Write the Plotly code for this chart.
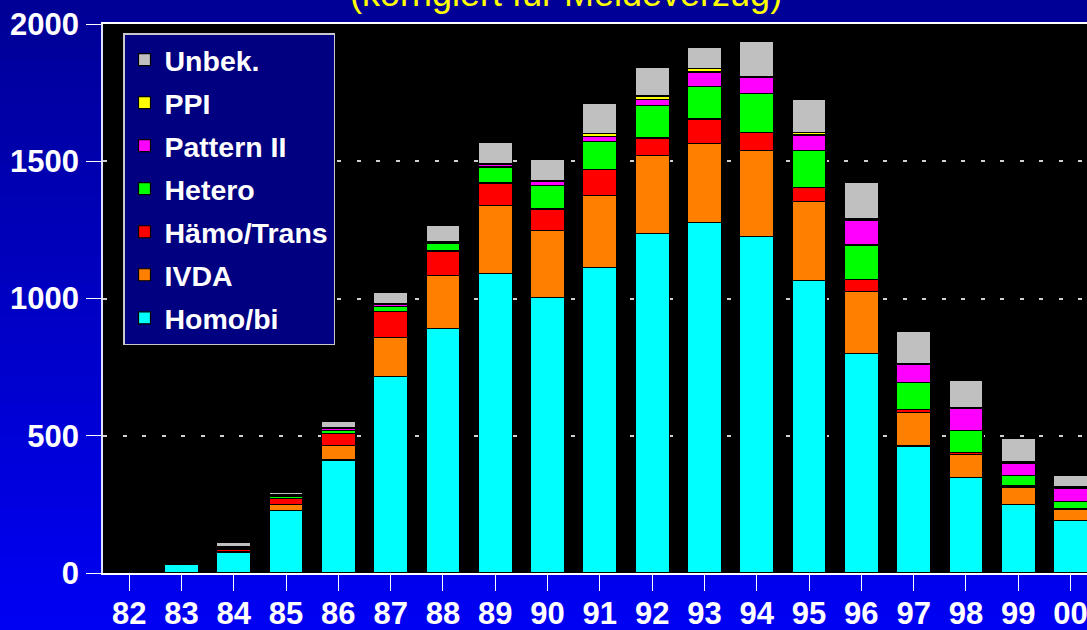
import plotly.graph_objects as go

years = ["82", "83", "84", "85", "86", "87", "88", "89", "90", "91",
         "92", "93", "94", "95", "96", "97", "98", "99", "00"]

homo_bi = [0, 31, 75, 228, 412, 716, 892, 1091, 1005, 1114, 1238, 1277, 1226, 1065, 801, 463, 347, 251, 191]
ivda = [0, 0, 3, 22, 52, 142, 192, 248, 243, 260, 283, 288, 314, 287, 224, 123, 86, 62, 40]
haemo_trans = [0, 0, 8, 22, 45, 95, 89, 82, 78, 97, 64, 89, 65, 52, 45, 11, 6, 5, 4]
hetero = [0, 0, 5, 6, 10, 19, 26, 58, 86, 100, 118, 119, 143, 136, 125, 98, 79, 38, 25]
pattern_ii = [0, 0, 4, 4, 6, 5, 4, 8, 14, 20, 22, 52, 56, 56, 90, 64, 80, 45, 50]
ppi = [0, 0, 3, 2, 4, 3, 3, 6, 2, 10, 13, 12, 3, 10, 5, 4, 4, 4, 4]
unbek = [0, 0, 12, 10, 22, 42, 61, 75, 77, 110, 103, 78, 130, 118, 132, 117, 99, 86, 42]

series = [
    ("Homo/bi", homo_bi, "#00FFFF"),
    ("IVDA", ivda, "#FF8000"),
    ("Hämo/Trans", haemo_trans, "#FF0000"),
    ("Hetero", hetero, "#00FF00"),
    ("Pattern II", pattern_ii, "#FF00FF"),
    ("PPI", ppi, "#FFFF00"),
    ("Unbek.", unbek, "#C0C0C0"),
]

W, H = 1087, 630
ML, MR, MT, MB = 103, 0, 24, 57
PW = W - ML - MR
PH = H - MT - MB

fig = go.Figure()
n = len(series)
for i, (name, vals, col) in enumerate(series):
    fig.add_trace(go.Bar(
        x=years, y=vals, name=name, legendgroup=name, legendrank=n - i,
        marker=dict(color=col, line=dict(color="#000000", width=1.2)),
    ))

# gradient background (navy at top -> bright blue at bottom)
shapes = []
nb = 42
for i in range(nb):
    py0 = H * i / nb
    py1 = H * (i + 1) / nb + 0.6
    t = (i + 0.5) / nb
    b = int(150 + (245 - 150) * t)
    shapes.append(dict(
        type="rect", xref="paper", yref="paper", layer="below",
        x0=-ML / PW - 0.01, x1=1 + 0.01,
        y0=1 - (py1 - MT) / PH, y1=1 - (py0 - MT) / PH,
        fillcolor=f"rgb(0,0,{b})", line=dict(width=0),
    ))
# black plot area
shapes.append(dict(type="rect", xref="paper", yref="paper", layer="below",
                   x0=0, x1=1, y0=0, y1=1, fillcolor="#000000",
                   line=dict(width=0)))

font_bold = dict(family="Liberation Sans, Arial, sans-serif", color="white", weight="bold")

fig.update_layout(
    width=W, height=H, autosize=False,
    margin=dict(l=ML, r=MR, t=MT, b=MB, pad=0, autoexpand=False),
    paper_bgcolor="#0000C0", plot_bgcolor="#000000",
    barmode="stack", bargap=0.35,
    shapes=shapes,
    showlegend=True,
    legend=dict(
        x=(123 - ML) / PW, y=1 - (33 - MT) / PH, xanchor="left", yanchor="top",
        bgcolor="#000080", bordercolor="#C8C8C8", borderwidth=1.5,
        font=dict(size=28.5, **font_bold),
        traceorder="grouped", tracegroupgap=3,
    ),
    xaxis=dict(
        type="category", range=[-0.5, -0.5 + PW / 52.3], automargin=False,
        showline=True, linecolor="white", linewidth=1.5, mirror=True,
        ticks="outside", ticklen=16, tickcolor="white", tickwidth=1,
        tickfont=dict(size=31, **font_bold), ticklabelstandoff=-4,
        showgrid=False, zeroline=False,
    ),
    yaxis=dict(
        range=[0, 2000], tickvals=[0, 500, 1000, 1500, 2000], automargin=False,
        showline=True, linecolor="#E0E0FF", linewidth=1.5,
        ticks="outside", ticklen=15, tickcolor="white", tickwidth=1,
        tickfont=dict(size=31, **font_bold), ticklabelstandoff=1,
        showgrid=True, gridcolor="#D0D0D0", gridwidth=1.5, griddash="4px,15.5px",
        zeroline=False,
    ),
    annotations=[dict(
        text="(korrigiert für Meldeverzug)", xref="paper", yref="paper",
        x=(566 - ML) / PW, y=1 + (MT + 7) / PH, xanchor="center", yanchor="middle",
        showarrow=False,
        font=dict(family="Liberation Sans, Arial, sans-serif", size=36, color="#FFFF00"),
    )],
)

fig.write_html(
    "out.html",
    config={"displayModeBar": False},
    post_script="document.body.style.margin='0';document.body.style.background='#0000C0';",
)
